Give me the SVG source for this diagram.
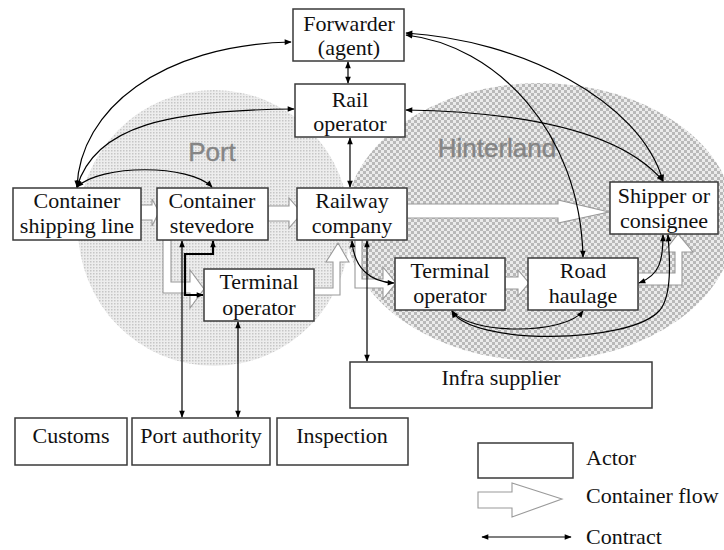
<svg xmlns="http://www.w3.org/2000/svg" width="724" height="550" viewBox="0 0 724 550">
<defs>
<style>
.box{fill:#fff;stroke:#3a3a3a;stroke-width:1.5}
.t{font-size:22px;fill:#111;text-anchor:middle}
.tl{font-size:22px;fill:#111}
.region{font-family:'Liberation Sans',Arial,sans-serif;font-size:26px;fill:#858585;stroke:#858585;stroke-width:0.4;text-anchor:middle}
.flow{fill:#fff;stroke:#9a9a9a;stroke-width:1.1;stroke-linejoin:miter}
.ct{fill:none;stroke:#000;stroke-width:1.2;marker-start:url(#ah);marker-end:url(#ah)}
.ctk{fill:none;stroke:#000;stroke-width:2.2;marker-start:url(#ah);marker-end:url(#ah)}
</style>
<marker id="ah" viewBox="0 0 10 10" refX="9" refY="5" markerWidth="8" markerHeight="7" markerUnits="userSpaceOnUse" orient="auto-start-reverse">
<path d="M0,1 L10,5 L0,9 z" fill="#000"/>
</marker>
<pattern id="pdots" width="3" height="3" patternUnits="userSpaceOnUse">
<rect width="3" height="3" fill="#ededed"/>
<rect width="1.5" height="1.5" fill="#c6c6c6"/>
</pattern>
<pattern id="pcheck" width="6" height="6" patternUnits="userSpaceOnUse">
<rect width="6" height="6" fill="#ebebeb"/>
<rect width="3" height="3" fill="#b9b9b9"/>
<rect x="3" y="3" width="3" height="3" fill="#b9b9b9"/>
</pattern>
</defs>

<g id="regions">
<ellipse cx="540" cy="222" rx="195" ry="139" fill="url(#pcheck)"/>
<ellipse cx="214" cy="228" rx="136" ry="138" fill="url(#pdots)"/>
<text class="region" x="212" y="161">Port</text>
<text class="region" x="497" y="157">Hinterland</text>
</g>

<g id="flows">
<polygon class="flow" points="141,205 152,205 152,199 159,212 152,226 152,220 141,220"/>
<polygon class="flow" points="268,206 289,206 289,198 302,213 289,228 289,221 268,221"/>
<polygon class="flow" points="407,204 558,204 558,200 609,212 558,223 558,218 407,218"/>
<polygon class="flow" points="163,240 163,293 190,293 190,308 204,289 190,270 190,282 171,282 171,240"/>
<polygon class="flow" points="314,288 333,288 333,262 326,262 338,243 349,262 340,262 340,295 314,295"/>
<polygon class="flow" points="355,240 355,288 383,288 383,299 396,283 383,267 383,279 362,279 362,240"/>
<polygon class="flow" points="505,277 518,277 518,270 529,283 518,296 518,289 505,289"/>
<polygon class="flow" points="638,273 675,273 675,252 664,252 678,234 693,252 682,252 682,285 638,285"/>
</g>

<g font-family="'Liberation Serif', 'DejaVu Serif', serif">
<g id="forwarder"><rect class="box" x="293" y="9" width="111" height="52"/><text class="t" x="349" y="31">Forwarder</text><text class="t" x="349" y="55">(agent)</text></g>
<g id="rail-operator"><rect class="box" x="295" y="84" width="110" height="53"/><text class="t" x="350" y="107">Rail</text><text class="t" x="350" y="131">operator</text></g>
<g id="shipping-line"><rect class="box" x="13" y="188" width="128" height="52"/><text class="t" x="77" y="208">Container</text><text class="t" x="77" y="233">shipping line</text></g>
<g id="stevedore"><rect class="box" x="157" y="188" width="111" height="52"/><text class="t" x="212" y="208">Container</text><text class="t" x="212" y="233">stevedore</text></g>
<g id="railway-company"><rect class="box" x="297" y="188" width="110" height="52"/><text class="t" x="352" y="208">Railway</text><text class="t" x="352" y="233">company</text></g>
<g id="terminal-port"><rect class="box" x="204" y="269" width="110" height="52"/><text class="t" x="259" y="289">Terminal</text><text class="t" x="259" y="315">operator</text></g>
<g id="terminal-hinterland"><rect class="box" x="395" y="258" width="110" height="52"/><text class="t" x="450" y="278">Terminal</text><text class="t" x="450" y="303">operator</text></g>
<g id="road-haulage"><rect class="box" x="528" y="258" width="110" height="52"/><text class="t" x="583" y="278">Road</text><text class="t" x="583" y="303">haulage</text></g>
<g id="shipper"><rect class="box" x="610" y="182" width="108" height="52"/><text class="t" x="664" y="203">Shipper or</text><text class="t" x="664" y="228">consignee</text></g>
<g id="infra-supplier"><rect class="box" x="350" y="362" width="302" height="46"/><text class="t" x="501" y="385">Infra supplier</text></g>
<g id="customs"><rect class="box" x="15" y="418" width="112" height="47"/><text class="t" x="71" y="443">Customs</text></g>
<g id="port-authority"><rect class="box" x="132" y="418" width="138" height="47"/><text class="t" x="201" y="443">Port authority</text></g>
<g id="inspection"><rect class="box" x="277" y="418" width="131" height="47"/><text class="t" x="342" y="443">Inspection</text></g>
</g>

<g id="contracts">
<path class="ct" d="M77,187 C80,110 160,45 291,42"/>
<path class="ct" d="M77,187 C95,125 170,110 294,109"/>
<path class="ct" d="M77,187 C100,164 190,164 212,187"/>
<path class="ct" d="M348,62 L348,83"/>
<path class="ct" d="M350,138 L350,187"/>
<path class="ct" d="M406,33 C520,40 640,100 663,181"/>
<path class="ct" d="M406,35 C495,45 580,130 583,257"/>
<path class="ct" d="M406,110 C520,112 620,130 663,181"/>
<path class="ct" d="M182,241 L182,417"/>
<path class="ctk" d="M213,241 L213,254 L185,254 L185,295 L203,295"/>
<path class="ct" d="M238,322 L238,417"/>
<path class="ct" d="M367,241 L367,361"/>
<path class="ct" d="M352,241 C354,268 370,282 394,283"/>
<path class="ct" d="M452,311 C470,335 565,335 583,311"/>
<path class="ct" d="M452,311 C470,345 630,345 660,310 C672,295 670,260 668,235"/>
<path class="ct" d="M639,283 C660,275 663,260 663,235"/>
</g>

<g id="legend" font-family="'Liberation Serif', 'DejaVu Serif', serif">
<rect class="box" x="478" y="443" width="95" height="35"/>
<text class="tl" x="586" y="465">Actor</text>
<polygon class="flow" points="478,492 512,492 512,483 562,499 512,517 512,508 478,508"/>
<text class="tl" x="586" y="503">Container flow</text>
<path class="ct" d="M482,537 L571,537"/>
<text class="tl" x="586" y="544">Contract</text>
</g>
</svg>
